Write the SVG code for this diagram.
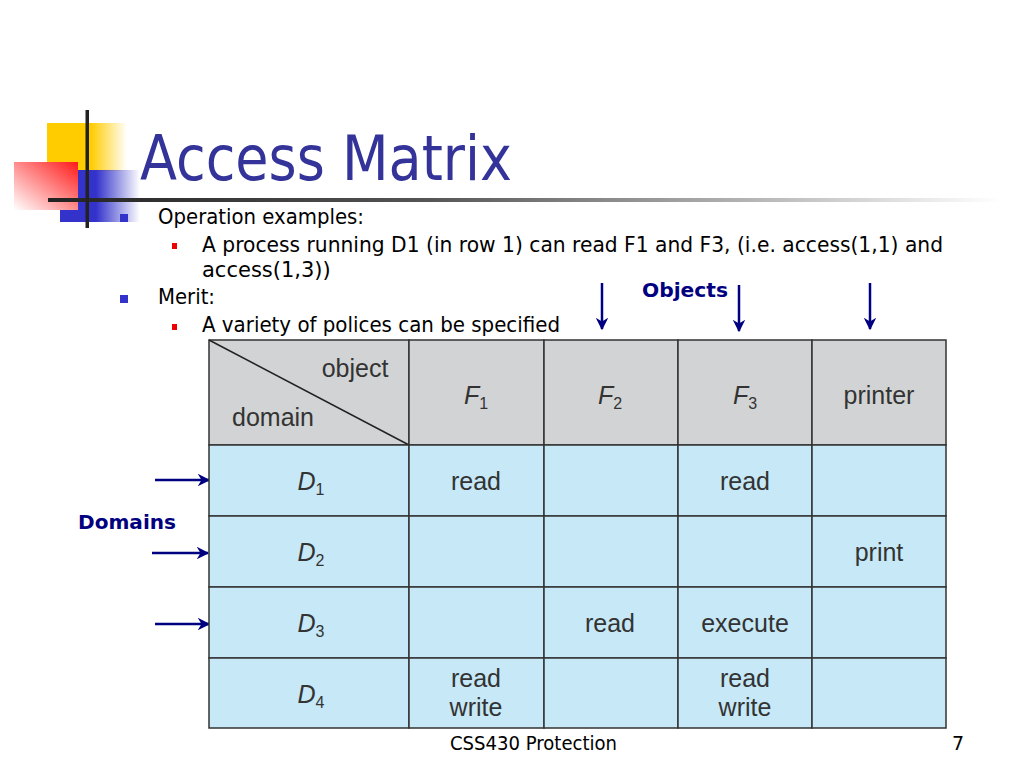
<svg xmlns="http://www.w3.org/2000/svg" width="1024" height="768" viewBox="0 0 1024 768">
<defs>
<linearGradient id="gy" x1="0" y1="0" x2="1" y2="0"><stop offset="0" stop-color="#ffcc00"/><stop offset="0.55" stop-color="#ffcc00"/><stop offset="1" stop-color="#ffcc00" stop-opacity="0"/></linearGradient>
<linearGradient id="gb" x1="0" y1="0" x2="1" y2="0"><stop offset="0" stop-color="#3333cc"/><stop offset="0.45" stop-color="#3333cc"/><stop offset="1" stop-color="#3333cc" stop-opacity="0"/></linearGradient>
<linearGradient id="gr" x1="1" y1="0" x2="0" y2="1"><stop offset="0" stop-color="#ff1a1a"/><stop offset="1" stop-color="#ffffff"/></linearGradient>
<linearGradient id="gl" x1="0" y1="0" x2="1" y2="0"><stop offset="0" stop-color="#222"/><stop offset="0.4" stop-color="#555"/><stop offset="1" stop-color="#fff"/></linearGradient>
<marker id="ah" viewBox="0 0 10 10" refX="9" refY="5" markerWidth="5" markerHeight="5" orient="auto"><path d="M0,0 L10,5 L0,10 L3,5 z" fill="#000080"/></marker>
<style>
.t{font-family:Tahoma,"DejaVu Sans",sans-serif;fill:#000}
.b{font-family:Tahoma,"DejaVu Sans",sans-serif;font-weight:bold;fill:#000080;font-size:20px}
.c{font-family:"Liberation Sans",Arial,sans-serif;fill:#333;font-size:25px;text-anchor:middle}
.i{font-style:italic}
.hd{fill:#d1d3d4;stroke:#333;stroke-width:1.5}
.bd{fill:#c6e8f7;stroke:#333;stroke-width:1.5}
.ar{stroke:#000080;stroke-width:2.5;fill:none;marker-end:url(#ah)}
</style>
</defs>
<rect width="1024" height="768" fill="#fff"/>
<g id="decor">
<rect x="47" y="123" width="80" height="48" fill="url(#gy)"/>
<rect x="60" y="170" width="80" height="52" fill="url(#gb)"/>
<rect x="14" y="162" width="64" height="48" fill="url(#gr)"/>
<rect x="48" y="198" width="952" height="4" fill="url(#gl)"/>
<rect x="85.5" y="110" width="3.5" height="118" fill="#222"/>
</g>
<text class="t" x="140" y="180" font-size="63" style="fill:#333399" textLength="372" lengthAdjust="spacingAndGlyphs">Access Matrix</text>
<g id="bullets">
<rect x="120" y="214" width="8" height="8" fill="#3333cc"/>
<text class="t" x="158" y="224" font-size="21" textLength="206" lengthAdjust="spacingAndGlyphs">Operation examples:</text>
<rect x="172" y="243" width="5" height="6" fill="#e00"/>
<text class="t" x="202" y="252" font-size="21" textLength="741" lengthAdjust="spacingAndGlyphs">A process running D1 (in row 1) can read F1 and F3, (i.e. access(1,1) and</text>
<text class="t" x="202" y="277" font-size="21">access(1,3))</text>
<rect x="120" y="295" width="8" height="8" fill="#3333cc"/>
<text class="t" x="158" y="304" font-size="21" textLength="57" lengthAdjust="spacingAndGlyphs">Merit:</text>
<rect x="172" y="324" width="5" height="6" fill="#e00"/>
<text class="t" x="202" y="332" font-size="21" textLength="358" lengthAdjust="spacingAndGlyphs">A variety of polices can be specified</text>
</g>
<text class="b" x="642" y="297" textLength="86" lengthAdjust="spacingAndGlyphs">Objects</text>
<text class="b" x="78" y="529" textLength="98" lengthAdjust="spacingAndGlyphs">Domains</text>
<g id="connectors">
<line class="ar" x1="602" y1="283" x2="602" y2="329"/>
<line class="ar" x1="739" y1="285" x2="739" y2="331"/>
<line class="ar" x1="870" y1="283" x2="870" y2="329"/>
<line class="ar" x1="155" y1="480" x2="209" y2="480"/>
<line class="ar" x1="152" y1="553" x2="208" y2="553"/>
<line class="ar" x1="155" y1="624" x2="209" y2="624"/>
</g>
<g id="matrix">
<rect class="hd" x="209" y="340" width="200" height="105"/>
<rect class="hd" x="409" y="340" width="135" height="105"/>
<rect class="hd" x="544" y="340" width="134" height="105"/>
<rect class="hd" x="678" y="340" width="134" height="105"/>
<rect class="hd" x="812" y="340" width="134" height="105"/>
<line x1="209" y1="340" x2="409" y2="445" stroke="#222" stroke-width="1.5"/>
<text class="c" x="355" y="377">object</text>
<text class="c" x="273" y="426">domain</text>
<text class="c i" x="476" y="404">F<tspan font-size="16" font-style="normal" dy="5">1</tspan></text>
<text class="c i" x="610" y="404">F<tspan font-size="16" font-style="normal" dy="5">2</tspan></text>
<text class="c i" x="745" y="404">F<tspan font-size="16" font-style="normal" dy="5">3</tspan></text>
<text class="c" x="879" y="404">printer</text>
<g id="rows">
<rect class="bd" x="209" y="445" width="200" height="71"/><rect class="bd" x="409" y="445" width="135" height="71"/><rect class="bd" x="544" y="445" width="134" height="71"/><rect class="bd" x="678" y="445" width="134" height="71"/><rect class="bd" x="812" y="445" width="134" height="71"/>
<rect class="bd" x="209" y="516" width="200" height="71"/><rect class="bd" x="409" y="516" width="135" height="71"/><rect class="bd" x="544" y="516" width="134" height="71"/><rect class="bd" x="678" y="516" width="134" height="71"/><rect class="bd" x="812" y="516" width="134" height="71"/>
<rect class="bd" x="209" y="587" width="200" height="71"/><rect class="bd" x="409" y="587" width="135" height="71"/><rect class="bd" x="544" y="587" width="134" height="71"/><rect class="bd" x="678" y="587" width="134" height="71"/><rect class="bd" x="812" y="587" width="134" height="71"/>
<rect class="bd" x="209" y="658" width="200" height="70"/><rect class="bd" x="409" y="658" width="135" height="70"/><rect class="bd" x="544" y="658" width="134" height="70"/><rect class="bd" x="678" y="658" width="134" height="70"/><rect class="bd" x="812" y="658" width="134" height="70"/>
</g>
<text class="c i" x="311" y="490">D<tspan font-size="16" font-style="normal" dy="5">1</tspan></text>
<text class="c i" x="311" y="561">D<tspan font-size="16" font-style="normal" dy="5">2</tspan></text>
<text class="c i" x="311" y="632">D<tspan font-size="16" font-style="normal" dy="5">3</tspan></text>
<text class="c i" x="311" y="703">D<tspan font-size="16" font-style="normal" dy="5">4</tspan></text>
<text class="c" x="476" y="490">read</text>
<text class="c" x="745" y="490">read</text>
<text class="c" x="879" y="561">print</text>
<text class="c" x="610" y="632">read</text>
<text class="c" x="745" y="632">execute</text>
<text class="c" x="476" y="687">read</text>
<text class="c" x="476" y="716">write</text>
<text class="c" x="745" y="687">read</text>
<text class="c" x="745" y="716">write</text>
</g>
<text class="t" x="450" y="750" font-size="19" textLength="167" lengthAdjust="spacingAndGlyphs">CSS430 Protection</text>
<text class="t" x="952" y="750" font-size="19">7</text>
</svg>
